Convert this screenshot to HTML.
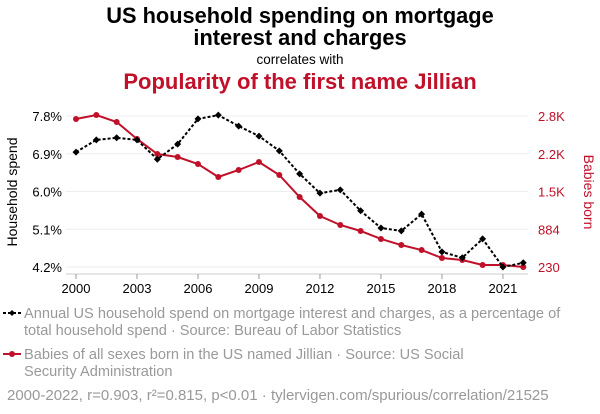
<!DOCTYPE html>
<html><head><meta charset="utf-8"><style>
body{margin:0;background:#fff;font-family:"Liberation Sans",sans-serif;}
svg{display:block}
</style></head><body>
<svg id="c" width="600" height="414" xmlns="http://www.w3.org/2000/svg">
<text x="300" y="23" text-anchor="middle" font-size="21.8" font-weight="bold" fill="#000">US household spending on mortgage</text>
<text x="300" y="45" text-anchor="middle" font-size="21.8" font-weight="bold" fill="#000">interest and charges</text>
<text x="300" y="64" text-anchor="middle" font-size="13.5" fill="#000">correlates with</text>
<text x="300" y="89" text-anchor="middle" font-size="22" font-weight="bold" fill="#c0102a">Popularity of the first name Jillian</text>
<text transform="translate(17,192) rotate(-90)" text-anchor="middle" font-size="14" fill="#000">Household spend</text>
<text transform="translate(584,192) rotate(90)" text-anchor="middle" font-size="14" fill="#c0102a">Babies born</text>
<g id="grid"></g><g id="axes"></g><g id="marks"></g>
<g>
<line x1="3" y1="313" x2="21" y2="313" stroke="#000" stroke-width="2" stroke-dasharray="3,2"/>
<path d="M12 310 L15 313 L12 316 L9 313Z" fill="#000"/>
<text x="24" y="318" font-size="14.6" fill="#999">Annual US household spend on mortgage interest and charges, as a percentage of</text>
<text x="24" y="335" font-size="14.6" fill="#999">total household spend · Source: Bureau of Labor Statistics</text>
<line x1="3" y1="354" x2="21" y2="354" stroke="#c0102a" stroke-width="2"/>
<circle cx="12" cy="354" r="3" fill="#c0102a"/>
<text x="24" y="359" font-size="14.6" fill="#999">Babies of all sexes born in the US named Jillian · Source: US Social</text>
<text x="24" y="376" font-size="14.6" fill="#999">Security Administration</text>
<text x="7" y="400" font-size="15" fill="#999">2000-2022, r=0.903, r²=0.815, p&lt;0.01 · tylervigen.com/spurious/correlation/21525</text>
</g>
</svg>
<script>
const years=[2000,2001,2002,2003,2004,2005,2006,2007,2008,2009,2010,2011,2012,2013,2014,2015,2016,2017,2018,2019,2020,2021,2022];
const spend=[6.94,7.23,7.28,7.23,6.77,7.13,7.73,7.82,7.56,7.32,6.97,6.42,5.96,6.04,5.54,5.13,5.06,5.46,4.56,4.42,4.87,4.20,4.30];
const babies=[2749,2817,2698,2409,2153,2102,1983,1762,1881,2017,1796,1421,1098,945,843,707,604,519,383,349,264,264,230];
const leftTicks=["4.2%","5.1%","6.0%","6.9%","7.8%"];
const leftVals=[4.2,5.1,6.0,6.9,7.8];
const rightTicks=["230","884","1.5K","2.2K","2.8K"];
const xTicks=[2000,2003,2006,2009,2012,2015,2018,2021];
const NS="http://www.w3.org/2000/svg";
const X=y=>76+(y-2000)*20.33;
const YL=v=>267-(v-4.2)/3.6*151;
const YR=v=>267-(v-230)/2570*151;
function mk(t,a,p){const e=document.createElementNS(NS,t);for(const k in a)e.setAttribute(k,a[k]);p.appendChild(e);return e;}
const g=document.getElementById('grid'),ax=document.getElementById('axes'),m=document.getElementById('marks');
leftVals.forEach((v,i)=>{const y=YL(v);
const l=mk('line',{x1:66,x2:528,y1:y,y2:y,stroke:'#eee','stroke-width':1},g);


const t=mk('text',{x:62,y:y+5,'text-anchor':'end','font-size':13,fill:'#000'},ax);t.textContent=leftTicks[i];


const r=mk('text',{x:538,y:y+5,'font-size':13,fill:'#c0102a'},ax);r.textContent=rightTicks[i];


});
mk('line',{x1:66,x2:528,y1:274,y2:274,stroke:'#ccc','stroke-width':1},ax);
xTicks.forEach(yr=>{const x=X(yr);mk('line',{x1:x,x2:x,y1:274,y2:279,stroke:'#999'},ax);
const t=mk('text',{x:x,y:293,'text-anchor':'middle','font-size':13,fill:'#000'},ax);t.textContent=yr;

});
const rp=mk('polyline',{points:years.map((y,i)=>X(y)+','+YR(babies[i])).join(' '),fill:'none',stroke:'#c0102a','stroke-width':2},m);


years.forEach((y,i)=>{const c=mk('circle',{cx:X(y),cy:YR(babies[i]),r:3,fill:'#c0102a'},m);

});
const bp=mk('polyline',{points:years.map((y,i)=>X(y)+','+YL(spend[i])).join(' '),fill:'none',stroke:'#000','stroke-width':2,'stroke-dasharray':'3,2'},m);


years.forEach((y,i)=>{const x=X(y),yy=YL(spend[i]);const d=mk('path',{d:`M${x} ${yy-3.5}L${x+3.5} ${yy}L${x} ${yy+3.5}L${x-3.5} ${yy}Z`,fill:'#000'},m);

});
</script>
</body></html>
